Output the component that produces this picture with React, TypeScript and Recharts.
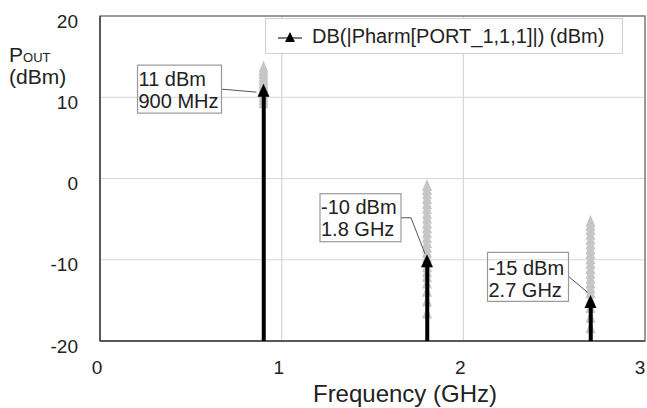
import React from "react";
import {
  ComposedChart,
  Scatter,
  Bar,
  XAxis,
  YAxis,
  CartesianGrid,
  Legend,
  ReferenceArea,
} from "recharts";

const FREQ_GHZ = [0.9, 1.8, 2.7];
const POUT_DBM = [11, -10, -15];
const NOTE_LEVEL = ["11 dBm", "-10 dBm", "-15 dBm"];
const NOTE_FREQ = ["900 MHz", "1.8 GHz", "2.7 GHz"];

// grey cloud of swept traces behind each tone, read by eye
const SPREAD_1 = [13.8, 13.4, 13, 12.6, 12.2, 11.8, 11.4, 11, 10.6, 10.2, 9.8, 9.4];
const SPREAD_2 = [
  -0.8, -1.3, -1.8, -2.4, -3, -3.6, -4.2, -4.8, -5.4, -6, -6.6, -7.2, -7.8, -8.4, -9, -9.6, -10.2, -10.8,
  -11.4, -12, -12.8, -13.8, -15, -16.5,
];
const SPREAD_3 = [
  -5.2, -5.7, -6.2, -6.8, -7.4, -8, -8.6, -9.2, -9.8, -10.4, -11, -11.6, -12.2, -12.8, -13.4, -14, -14.8,
  -15.8, -17, -18.3,
];

const X_TICKS = [0, 1, 2, 3];
const Y_TICKS = [-20, -10, 0, 10, 20];
const FLOOR = -20;

const LEGEND_NAME = "DB(|Pharm[PORT_1,1,1]|) (dBm)";

const FONT = "'Liberation Sans', Arial, sans-serif";
const TEXT = "#222";

const tones = FREQ_GHZ.map((f, i) => ({
  f,
  p: POUT_DBM[i],
  stem: [FLOOR, POUT_DBM[i]],
}));

const spread = [
  ...SPREAD_1.map((p) => ({ f: FREQ_GHZ[0], p })),
  ...SPREAD_2.map((p) => ({ f: FREQ_GHZ[1], p })),
  ...SPREAD_3.map((p) => ({ f: FREQ_GHZ[2], p })),
];

// annotation boxes, relative to the marker
const NOTES = [
  { bx: -126, by: -24, bw: 84, bh: 48, ty: -3, leader: [[-42, 0], [-7, 3]] },
  { bx: -107, by: -66, bw: 81, bh: 48, ty: -46, leader: [[-26, -42], [-16, -42], [-2, -6]] },
  { bx: -103, by: -48, bw: 81, bh: 49, ty: -25, leader: [[-22, -24], [-3, -8]] },
];

const tri = (cx: number, cy: number, w: number, h: number) =>
  `${cx},${cy - h / 2} ${cx + w / 2},${cy + h / 2} ${cx - w / 2},${cy + h / 2}`;

const GreyMark = (props: any) => {
  const { cx, cy } = props;
  if (cx == null || cy == null) return null;
  return <polygon points={tri(cx, cy, 10, 12)} fill="#c6c6c6" />;
};

const Stem = (props: any) => {
  const { x, y, width, height } = props;
  if (x == null || y == null) return null;
  return <rect x={x} y={y} width={width} height={Math.abs(height)} fill="#000" />;
};

const ToneMark = (props: any) => {
  const { cx, cy, payload } = props;
  if (cx == null || cy == null) return null;
  const i = FREQ_GHZ.indexOf(payload.f);
  const n = NOTES[i];
  const pts = n.leader.map(([dx, dy]) => `${cx + dx},${cy + dy}`).join(" ");
  return (
    <g>
      <polyline points={pts} fill="none" stroke="#555" strokeWidth={1} />
      <rect
        x={cx + n.bx}
        y={cy + n.by}
        width={n.bw}
        height={n.bh}
        fill="none"
        stroke="#999"
        strokeWidth={1.2}
      />
      <text x={cx + n.bx + 1} y={cy + n.ty} fontSize={20} fill={TEXT} fontFamily={FONT}>
        {NOTE_LEVEL[i]}
      </text>
      <text x={cx + n.bx + 1} y={cy + n.ty + 22} fontSize={20} fill={TEXT} fontFamily={FONT}>
        {NOTE_FREQ[i]}
      </text>
      <polygon points={tri(cx, cy + 1, 12, 13)} fill="#000" />
    </g>
  );
};

const YTick = (props: any) => {
  const { x, y, payload } = props;
  return (
    <text x={x} y={y + 5} textAnchor="end" dominantBaseline="central" fontSize={19} fill={TEXT} fontFamily={FONT}>
      {payload.value}
    </text>
  );
};

const XTick = (props: any) => {
  const { x, y, payload } = props;
  return (
    <text x={x - 3} y={y} textAnchor="middle" dominantBaseline="central" fontSize={19} fill={TEXT} fontFamily={FONT}>
      {payload.value}
    </text>
  );
};

const LegendBox = () => (
  <div
    style={{
      display: "flex",
      alignItems: "center",
      width: 356,
      height: 34,
      border: "1px solid #d0d0d0",
      background: "#fff",
      fontFamily: FONT,
      fontSize: 20,
      color: TEXT,
      whiteSpace: "nowrap",
      boxSizing: "content-box",
    }}
  >
    <svg width={46} height={34}>
      <line x1={12} y1={19} x2={36} y2={19} stroke="#000" strokeWidth={1} />
      <polygon points={tri(24, 18, 10, 10)} fill="#000" />
    </svg>
    <span>{LEGEND_NAME}</span>
  </div>
);

export default function App() {
  return (
    <div style={{ width: 647, height: 408, position: "relative", fontFamily: FONT }}>
      <style>{`body{margin:0;background:#fff}`}</style>
      <ComposedChart
        width={647}
        height={408}
        data={tones}
        margin={{ top: 16, right: 2, bottom: 0, left: 0 }}
      >
        <CartesianGrid stroke="#d6d6d6" strokeWidth={1.2} />
        <XAxis
          dataKey="f"
          type="number"
          domain={[0, 3]}
          ticks={X_TICKS}
          height={67}
          tickSize={6}
          tickMargin={20}
          tickLine={false}
          axisLine={{ stroke: "#444", strokeWidth: 1.5 }}
          tick={<XTick />}
          label={{
            content: () => (
              <text x={405} y={393} textAnchor="middle" dominantBaseline="central" fontSize={24} fill={TEXT} fontFamily={FONT}>
                Frequency (GHz)
              </text>
            ),
          }}
        />
        <YAxis
          type="number"
          domain={[-20, 20]}
          ticks={Y_TICKS}
          width={100}
          tickSize={6}
          tickMargin={16}
          tickLine={false}
          axisLine={{ stroke: "#444", strokeWidth: 1.5 }}
          tick={<YTick />}
          label={{
            content: () => (
              <g fontFamily={FONT} fill={TEXT}>
                <text x={9} y={62} fontSize={21}>
                  P<tspan fontSize={13}>OUT</tspan>
                </text>
                <text x={9} y={84} fontSize={21}>
                  (dBm)
                </text>
              </g>
            ),
          }}
        />
        <ReferenceArea x1={0} x2={3} y1={-20} y2={20} fill="none" stroke="#808080" strokeWidth={1.5} />
        <Legend
          layout="horizontal"
          verticalAlign="middle"
          align="center"
          wrapperStyle={{ top: 18, left: 265, width: "auto", height: "auto" }}
          content={() => <LegendBox />}
        />
        <Scatter
          name="spread"
          data={spread}
          dataKey="p"
          shape={<GreyMark />}
          legendType="none"
          isAnimationActive={false}
          zIndex={550}
        />
        <Bar
          dataKey="stem"
          barSize={4}
          fill="#000"
          shape={<Stem />}
          legendType="none"
          isAnimationActive={false}
          zIndex={700}
        />
        <Scatter
          name={LEGEND_NAME}
          data={tones}
          dataKey="p"
          shape={<ToneMark />}
          isAnimationActive={false}
          zIndex={800}
        />
      </ComposedChart>
    </div>
  );
}
